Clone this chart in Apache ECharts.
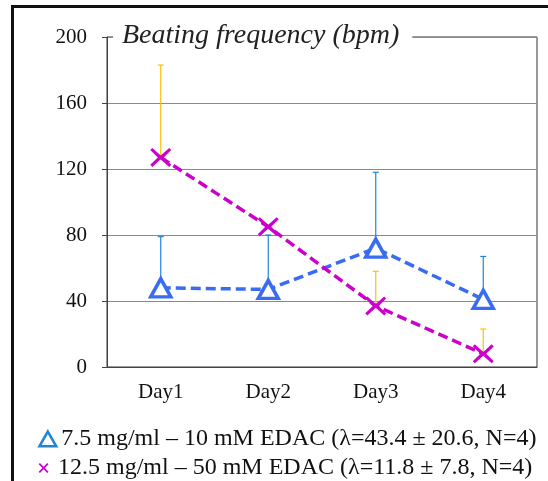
<!DOCTYPE html>
<html>
<head>
<meta charset="utf-8">
<script src="https://cdn.jsdelivr.net/npm/echarts@6/dist/echarts.min.js"></script>
<style>
  html, body { margin: 0; padding: 0; background: #fff; }
  #wrap { position: relative; width: 548px; height: 481px; }
  #frame { position: absolute; left: 11px; top: 5px; right: 0; bottom: 0;
           border-left: 3px solid #111; border-top: 3px solid #111; }
  #chart { position: absolute; left: 0; top: 0; width: 548px; height: 481px; }
</style>
</head>
<body>
<div id="wrap">
  <div id="frame"></div>
  <div id="chart"></div>
</div>
<script>
// categories
const days = ['Day1', 'Day2', 'Day3', 'Day4'];
// 7.5 mg/ml - 10 mM EDAC
const lowMean = [48, 47, 72, 41];
const lowErr = [31, 33, 46, 26];
// 12.5 mg/ml - 50 mM EDAC
const highMean = [127, 85, 37, 8];
const highErr = [56, 0, 21, 15];

const lowName = '7.5 mg/ml – 10 mM EDAC (λ=43.4 ± 20.6, N=4)';
const highName = '12.5 mg/ml – 50 mM EDAC (λ=11.8 ± 7.8, N=4)';

const serif = '"Liberation Serif", "DejaVu Serif", serif';
const blue = '#3a6cf2';
const blueBar = '#1f86d6';
const magenta = '#cc00cc';
const yellow = '#ffc000';

// marker / legend icon shapes
const crossPath = 'path://M2,0 L10,7.2 L18,0 L20,2 L12.8,9 L20,16 L18,18 L10,10.8 L2,18 L0,16 L7.2,9 L0,2 Z';
const crossIcon = 'path://M0,0 M26,26 M8,5 L14,11 L20,5 L22,7 L16,13 L22,19 L20,21 L14,15 L8,21 L6,19 L12,13 L6,7 Z';
const triIcon = 'path://M0,15 M11,1 L19,15 L3,15 Z';

// error bar: line from mean up to mean+err with a small cap
const errorBar = color => (params, api) => {
  const x = api.value(0);
  const m = api.value(1);
  const e = api.value(2);
  const base = api.coord([x, m]);
  const top = api.coord([x, m + e]);
  return {
    type: 'group',
    children: [
      { type: 'line', shape: { x1: base[0], y1: base[1], x2: top[0], y2: top[1] },
        style: { stroke: color, lineWidth: 1.2 } },
      { type: 'line', shape: { x1: top[0] - 3, y1: top[1], x2: top[0] + 3, y2: top[1] },
        style: { stroke: color, lineWidth: 1.2 } }
    ]
  };
};

const legendText = { fontFamily: serif, fontSize: 24, color: '#111', lineHeight: 24 };

const chart = echarts.init(document.getElementById('chart'));
chart.setOption({
  animation: false,
  title: {
    text: 'Beating frequency (bpm)',
    left: 113,
    top: 20,
    padding: [0, 13, 0, 9],
    backgroundColor: '#fff',
    textStyle: { fontFamily: serif, fontStyle: 'italic', fontWeight: 'normal', fontSize: 28, color: '#222', lineHeight: 32 }
  },
  grid: {
    left: 107, right: 11, top: 37, bottom: 114,
    show: true, borderColor: '#333', borderWidth: 1
  },
  legend: [
    {
      left: 30,
      top: 422,
      itemWidth: 20,
      itemHeight: 16,
      textStyle: legendText,
      data: [{ name: lowName, icon: triIcon,
        itemStyle: { color: '#fff', borderColor: blueBar, borderWidth: 2.5 } }]
    },
    {
      left: 30,
      top: 451,
      itemWidth: 20,
      itemHeight: 16,
      textStyle: legendText,
      data: [{ name: highName, icon: crossIcon, itemStyle: { color: magenta, borderWidth: 0 } }]
    }
  ],
  xAxis: {
    type: 'category',
    data: days,
    axisLine: { lineStyle: { color: '#444', width: 1 } },
    axisTick: { inside: true, alignWithLabel: true, length: 5, lineStyle: { color: '#444' } },
    axisLabel: { fontFamily: serif, fontSize: 21, color: '#111', margin: 15 }
  },
  yAxis: {
    type: 'value',
    min: 0,
    max: 200,
    interval: 40,
    axisLine: { show: true, lineStyle: { color: '#444', width: 1 } },
    axisTick: { show: true, length: 5, lineStyle: { color: '#444' } },
    axisLabel: { fontFamily: serif, fontSize: 21, color: '#111', margin: 20 },
    splitLine: { lineStyle: { color: '#8a8a8a', width: 1 } }
  },
  series: [
    {
      type: 'custom',
      name: 'lowErr',
      renderItem: errorBar(blueBar),
      data: days.map((d, i) => [i, lowMean[i], lowErr[i]]),
      z: 1
    },
    {
      type: 'custom',
      name: 'highErr',
      renderItem: errorBar(yellow),
      data: days.map((d, i) => [i, highMean[i], highErr[i]]),
      z: 1
    },
    {
      type: 'line',
      name: lowName,
      data: lowMean,
      symbol: 'triangle',
      symbolSize: [20, 18],
      showAllSymbol: true,
      lineStyle: { color: blue, width: 3.5, type: [10, 5] },
      itemStyle: { color: '#fff', borderColor: blue, borderWidth: 3.5 },
      z: 3
    },
    {
      type: 'line',
      name: highName,
      data: highMean,
      symbol: crossPath,
      symbolSize: [21, 19],
      showAllSymbol: true,
      lineStyle: { color: magenta, width: 3.5, type: [10, 5] },
      itemStyle: { color: magenta, borderWidth: 0 },
      z: 3
    }
  ]
});
</script>
</body>
</html>
